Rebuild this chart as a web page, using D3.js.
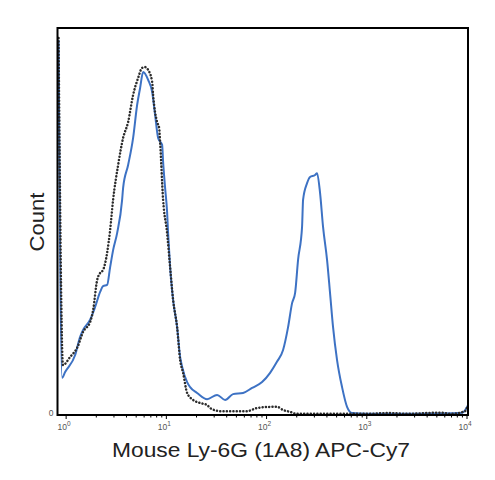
<!DOCTYPE html>
<html>
<head>
<meta charset="utf-8">
<script src="https://cdn.jsdelivr.net/npm/d3@7"></script>
<style>
  body { margin: 0; background: #fff; }
  svg { display: block; }
</style>
</head>
<body>
<div id="chart"></div>
<script>
// fluorescence value and relative count for the stained sample (blue)
var stainedX = [0.84, 0.912, 0.977, 1.23, 1.379, 1.477, 1.735, 1.946, 2.184, 2.339, 2.564, 2.748, 2.943, 3.227,
  3.619, 3.703, 4.154, 4.66, 5.108, 5.471, 5.864, 6.577, 7.211, 7.725, 8.277, 9.071, 9.281, 9.716, 10.17,
  10.41, 10.9, 11.68, 12.8, 13.72, 14.36, 16.11, 17.26, 20.27, 25.5, 32.08, 38.55, 46.34, 58.3, 71.7, 90.2,
  108.4, 127.3, 146.1, 163.9, 179.7, 192.5, 206.2, 226, 231.3, 253.5, 271.6, 304.7, 318.9, 341.7, 366.1,
  401.3, 429.9, 460.7, 505, 566.4, 635.3, 712.7, 1000, 2000, 5000, 9000, 10230];
var stainedY = [96.9, 9.6, 11.1, 15.5, 20.2, 22.0, 24.6, 27.9, 31.8, 33.3, 33.6, 38.2, 42.6, 47.0,
  55.6, 58.7, 64.6, 71.6, 80.1, 84.5, 88.6, 86.6, 83.5, 77.5, 71.6, 69.8, 65.4, 58.7, 52.5,
  47.0, 38.2, 29.7, 22.7, 15.0, 12.5, 8.5, 7.2, 5.7, 4.1, 5.2, 3.9, 5.4, 5.7, 7.0, 8.5,
  10.9, 13.8, 16.8, 22.7, 28.9, 31.5, 40.1, 48.6, 55.6, 59.9, 61.5, 62.0, 62.5, 57.4, 48.6,
  40.1, 31.5, 22.7, 14.2, 7.2, 2.1, 0.5, 0.3, 0.3, 0.4, 0.6, 2.5];

// isotype control (black dotted)
var controlX = [0.84, 0.93, 1.096, 1.3, 1.477, 1.735, 1.859, 2.04, 2.184, 2.339, 2.564, 2.748, 2.943, 3.302,
  3.703, 4.154, 4.66, 5.227, 5.73, 6.138, 6.577, 7.211, 7.377, 8.085, 8.47, 8.665, 9.281, 10.17, 10.9,
  11.68, 12.8, 13.72, 14.69, 16.11, 18.49, 21.71, 25.5, 27.3, 34.4, 63.9, 80.4, 108.4, 127.3, 146.1,
  171.6, 200, 1000, 1706, 2500, 5379, 7000, 9550, 10230];
var controlY = [97.4, 12.9, 15.0, 17.6, 21.5, 24.0, 27.1, 34.9, 36.7, 37.5, 41.9, 47.8, 55.6, 64.6,
  71.6, 75.7, 82.7, 87.1, 89.7, 89.9, 89.2, 86.1, 82.7, 75.7, 74.2, 70.5, 55.6, 47.0, 38.2,
  29.7, 22.7, 14.2, 10.9, 5.7, 3.9, 3.1, 2.6, 1.8, 1.0, 1.0, 1.8, 2.1, 2.1, 1.3,
  0.8, 0.3, 0.3, 0.5, 0.3, 0.6, 0.3, 1.0, 2.6];

var decades = [0, 1, 2, 3, 4];
var xTitle = "Mouse Ly-6G (1A8) APC-Cy7";
var yTitle = "Count";

var w = 495, h = 480;
var mLeft = 57.5, mTop = 28, mRight = 468, mBottom = 415;

var x = d3.scaleLog().domain([0.82, 10230]).range([mLeft, mRight]);
var y = d3.scaleLinear().domain([0, 100]).range([mBottom, mTop]);

var svg = d3.select("#chart").append("svg")
  .attr("width", w)
  .attr("height", h);

var line = d3.line()
  .x(function(d) { return x(d[0]); })
  .y(function(d) { return y(d[1]); })
  .curve(d3.curveMonotoneX);

var control = d3.zip(controlX, controlY);
var stained = d3.zip(stainedX, stainedY);

svg.append("path")
  .datum(stained)
  .attr("d", line)
  .attr("fill", "none")
  .attr("stroke", "#3d72c4")
  .attr("stroke-width", 2);

svg.append("path")
  .datum(control)
  .attr("d", line)
  .attr("fill", "none")
  .attr("stroke", "#2b2b2b")
  .attr("stroke-width", 2.5)
  .attr("stroke-linecap", "round")
  .attr("stroke-dasharray", "0.1,3.2");

// frame
svg.append("rect")
  .attr("x", mLeft)
  .attr("y", mTop)
  .attr("width", mRight - mLeft)
  .attr("height", mBottom - mTop)
  .attr("fill", "none")
  .attr("stroke", "#000")
  .attr("stroke-width", 2);

// log minor ticks below the bottom edge
var minor = [];
decades.slice(0, 4).forEach(function(d) {
  for (var k = 1; k < 10; k++) minor.push(k * Math.pow(10, d));
});
minor.push(10000);

svg.append("g")
  .attr("transform", "translate(0," + mBottom + ")")
  .selectAll("line")
  .data(minor.filter(function(v) { return v >= 0.82; }))
  .enter()
  .append("line")
  .attr("x1", function(d) { return x(d); })
  .attr("x2", function(d) { return x(d); })
  .attr("y1", 0)
  .attr("y2", function(d) { return Math.log10(d) % 1 === 0 ? 4 : 2.5; })
  .attr("stroke", "#000")
  .attr("stroke-width", 1);

// tick labels 10^n
var tl = svg.append("g")
  .selectAll("text")
  .data(decades)
  .enter()
  .append("text")
  .attr("x", function(d) { return x(Math.pow(10, d)) - 2; })
  .attr("y", 430)
  .attr("text-anchor", "middle")
  .style("font-family", "Arial, 'Liberation Sans', sans-serif")
  .style("font-size", "8.5px")
  .style("fill", "#555");
tl.append("tspan").text("10");
tl.append("tspan")
  .attr("dy", -4)
  .style("font-size", "6.5px")
  .text(function(d) { return d; });

svg.append("text")
  .attr("x", mLeft - 4)
  .attr("y", mBottom + 1)
  .attr("text-anchor", "end")
  .style("font-family", "Arial, 'Liberation Sans', sans-serif")
  .style("font-size", "8.5px")
  .style("fill", "#555")
  .text("0");

svg.append("text")
  .attr("x", 261)
  .attr("y", 457)
  .attr("text-anchor", "middle")
  .attr("textLength", 298)
  .attr("lengthAdjust", "spacingAndGlyphs")
  .style("font-family", "Arial, 'Liberation Sans', sans-serif")
  .style("font-size", "20px")
  .style("fill", "#222")
  .text(xTitle);

svg.append("text")
  .attr("transform", "translate(44,222)rotate(-90)")
  .attr("text-anchor", "middle")
  .attr("textLength", 59)
  .attr("lengthAdjust", "spacingAndGlyphs")
  .style("font-family", "Arial, 'Liberation Sans', sans-serif")
  .style("font-size", "20px")
  .style("fill", "#222")
  .text(yTitle);
</script>
</body>
</html>
